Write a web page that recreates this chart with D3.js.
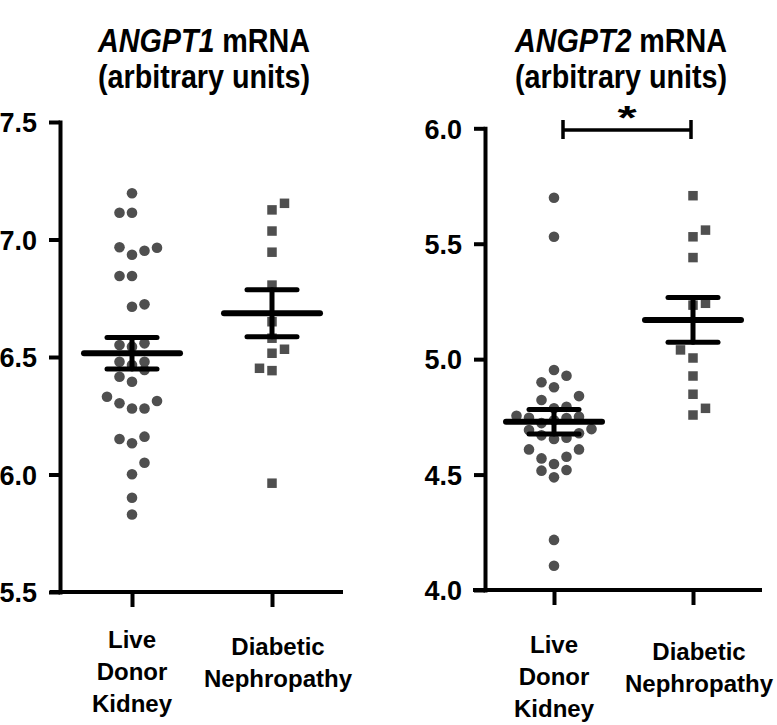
<!DOCTYPE html>
<html>
<head>
<meta charset="utf-8">
<script src="https://cdn.jsdelivr.net/npm/d3@7"></script>
<style>
  html, body { margin: 0; padding: 0; background: #ffffff; }
  svg text { font-family: "Liberation Sans", Arial, sans-serif; font-weight: bold; fill: #000; }
</style>
</head>
<body>
<svg id="chart" width="777" height="725"></svg>
<script>
// ---------- DATA ----------
const categories = ["Live Donor Kidney", "Diabetic Nephropathy"];
const categoryLines = [["Live", "Donor", "Kidney"], ["Diabetic", "Nephropathy"]];

// ANGPT1 panel
const ang1Ticks = [5.5, 6.0, 6.5, 7.0, 7.5];
const ang1LiveValues = [7.197, 7.114, 7.114, 6.967, 6.935, 6.952, 6.965, 6.845, 6.845, 6.714, 6.724,
  6.551, 6.544, 6.558, 6.480, 6.466, 6.480, 6.445, 6.416, 6.395,
  6.331, 6.303, 6.281, 6.281, 6.313, 6.151, 6.133, 6.161, 6.050, 6.001, 5.901, 5.830];
const ang1LiveLanes = [0, -1, 0, -1, 0, 1, 2, -1, 0, 0, 1,
  -1, 0, 1, -1, 0, 1, 1, -1, 0,
  -2, -1, 0, 1, 2, -1, 0, 1, 1, 0, 0, 0];
const ang1DNValues = [7.154, 7.126, 7.036, 6.946, 6.806, 6.650, 6.580, 6.533, 6.516, 6.452, 6.442, 5.963];
const ang1DNLanes = [1, 0, 0, 0, 0, 0, 0, 1, 0, -1, 0, 0];
const ang1Means = [6.516, 6.686];
const ang1Sems = [0.067, 0.100];

// ANGPT2 panel
const ang2Ticks = [4.0, 4.5, 5.0, 5.5, 6.0];
const ang2LiveValues = [5.699, 5.530, 4.953, 4.928, 4.900, 4.878, 4.840, 4.823, 4.787, 4.794,
  4.755, 4.746, 4.751, 4.735, 4.745, 4.723, 4.693, 4.670, 4.654, 4.660, 4.679, 4.697,
  4.609, 4.609, 4.570, 4.577, 4.546, 4.517, 4.520, 4.488, 4.217, 4.105];
const ang2LiveLanes = [0, 0, 0, 1, -1, 0, 2, -1, 0, 1,
  -3, -2, 2, 0, 1, -1, -2, -1, 0, 1, 2, 3,
  -2, 2, -1, 1, 0, -1, 1, 0, 0, 0];
const ang2DNValues = [5.708, 5.559, 5.530, 5.440, 5.234, 5.242, 5.040, 5.005, 4.927, 4.848, 4.787, 4.758];
const ang2DNLanes = [0, 1, 0, 0, 0, 1, -1, 0, 0, 0, 1, 0];
const ang2Means = [4.729, 5.170];
const ang2Sems = [0.053, 0.097];

const titles = [["ANGPT1", " mRNA"], ["ANGPT2", " mRNA"]];
const subtitle = "(arbitrary units)";
const sigLabel = "*";

// ---------- DRAW ----------
const svg = d3.select("#chart");
const pointColor = "#4f4f4f";

const panels = [
  { title: titles[0], ticks: ang1Ticks, domain: [5.5, 7.5], yRange: [592, 122], axisX: 60,
    xRange: [132, 272], xAxisExtent: [50, 343], titleX: 204,
    groups: [{ v: ang1LiveValues, l: ang1LiveLanes, shape: "circle" }, { v: ang1DNValues, l: ang1DNLanes, shape: "square" }],
    means: ang1Means, sems: ang1Sems, labelDy: 0, sig: false },
  { title: titles[1], ticks: ang2Ticks, domain: [4.0, 6.0], yRange: [590, 128.3], axisX: 485,
    xRange: [554, 693], xAxisExtent: [473, 762], titleX: 621,
    groups: [{ v: ang2LiveValues, l: ang2LiveLanes, shape: "circle" }, { v: ang2DNValues, l: ang2DNLanes, shape: "square" }],
    means: ang2Means, sems: ang2Sems, labelDy: 5, sig: true }
];

panels.forEach(p => {
  const g = svg.append("g");
  const y = d3.scaleLinear().domain(p.domain).range(p.yRange);
  const x = d3.scalePoint().domain(categories).range(p.xRange);
  const laneStep = 12.5;

  // title (condensed look)
  const t = g.append("text").attr("transform", `translate(${p.titleX},52) scale(0.87,1)`)
    .attr("text-anchor", "middle").style("font-size", "33px");
  t.append("tspan").style("font-style", "italic").text(p.title[0]);
  t.append("tspan").text(p.title[1]);
  g.append("text").attr("transform", `translate(${p.titleX},88) scale(0.87,1)`)
    .attr("text-anchor", "middle").style("font-size", "33px").text(subtitle);

  // y axis
  const yAxis = d3.axisLeft(y).tickValues(p.ticks).tickFormat(d3.format(".1f"))
    .tickSize(11).tickSizeOuter(0).tickPadding(12);
  const ya = g.append("g").attr("transform", `translate(${p.axisX},0)`).call(yAxis);
  ya.select(".domain").attr("stroke", "#000").attr("stroke-width", 4).attr("stroke-linecap", "square");
  ya.selectAll(".tick line").attr("stroke", "#000").attr("stroke-width", 4);
  ya.selectAll(".tick text").attr("font-family", null).style("font-size", "27px")
    .attr("dy", "0.36em").attr("fill", "#000");

  // x axis
  const baseY = p.yRange[0];
  g.append("line").attr("x1", p.xAxisExtent[0]).attr("x2", p.xAxisExtent[1])
    .attr("y1", baseY).attr("y2", baseY).attr("stroke", "#000").attr("stroke-width", 4);
  const xAxis = d3.axisBottom(x).tickSize(15).tickFormat("");
  const xa = g.append("g").attr("transform", `translate(0,${baseY})`).call(xAxis);
  xa.select(".domain").remove();
  xa.selectAll(".tick line").attr("stroke", "#000").attr("stroke-width", 4);

  // category labels
  categories.forEach((c, i) => {
    const lines = categoryLines[i];
    const startY = (lines.length === 3 ? 648 : 655) + p.labelDy;
    const cx = x(c) + (i === 1 ? 6 : 0);
    const txt = g.append("text").attr("text-anchor", "middle").style("font-size", "24px");
    lines.forEach((ln, k) => {
      txt.append("tspan").attr("x", cx).attr("y", startY + k * 32).text(ln);
    });
  });

  // points
  p.groups.forEach((grp, i) => {
    const cx = x(categories[i]);
    const pts = grp.v.map((v, k) => ({ v, lane: grp.l[k] }));
    if (grp.shape === "circle") {
      g.append("g").selectAll("circle").data(pts).join("circle")
        .attr("cx", d => cx + d.lane * laneStep)
        .attr("cy", d => y(d.v))
        .attr("r", 5.3)
        .attr("fill", pointColor);
    } else {
      const s = 9.5;
      g.append("g").selectAll("rect").data(pts).join("rect")
        .attr("x", d => cx + d.lane * laneStep - s / 2)
        .attr("y", d => y(d.v) - s / 2)
        .attr("width", s).attr("height", s)
        .attr("fill", pointColor);
    }
  });

  // mean and SEM
  categories.forEach((c, i) => {
    const cx = x(c);
    const m = p.means[i], s = p.sems[i];
    const eg = g.append("g").attr("stroke", "#000").attr("stroke-linecap", "round");
    eg.append("line").attr("x1", cx).attr("x2", cx).attr("y1", y(m + s)).attr("y2", y(m - s)).attr("stroke-width", 5);
    eg.append("line").attr("x1", cx - 48).attr("x2", cx + 48).attr("y1", y(m)).attr("y2", y(m)).attr("stroke-width", 6);
    [m + s, m - s].forEach(v => {
      eg.append("line").attr("x1", cx - 25).attr("x2", cx + 25).attr("y1", y(v)).attr("y2", y(v)).attr("stroke-width", 5);
    });
  });

  // significance bracket
  if (p.sig) {
    const x1 = x(categories[0]) + 9, x2 = x(categories[1]) - 2;
    const by = 130;
    const bg = g.append("g").attr("stroke", "#000").attr("stroke-width", 3.5);
    bg.append("line").attr("x1", x1).attr("x2", x2).attr("y1", by).attr("y2", by);
    bg.append("line").attr("x1", x1).attr("x2", x1).attr("y1", by - 10).attr("y2", by + 9);
    bg.append("line").attr("x1", x2).attr("x2", x2).attr("y1", by - 10).attr("y2", by + 9);
    g.append("text").attr("transform", `translate(${(x1 + x2) / 2},129) scale(1.45,1)`)
      .attr("text-anchor", "middle").style("font-size", "34px").text(sigLabel);
  }
});
</script>
</body>
</html>
